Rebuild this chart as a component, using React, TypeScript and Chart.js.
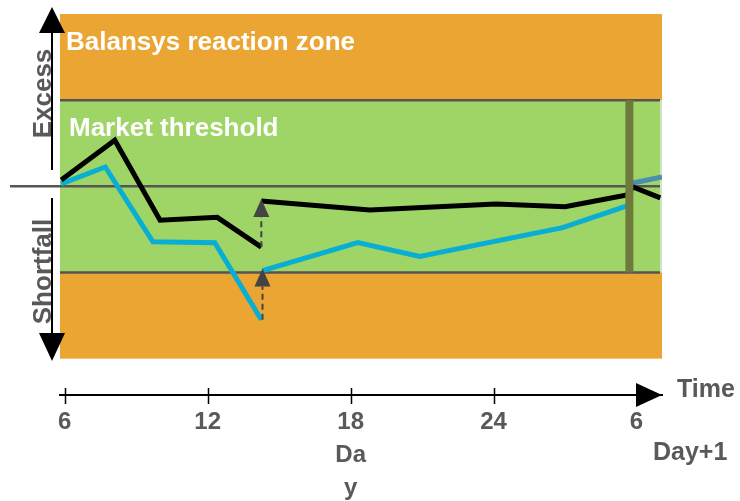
import React, { useEffect, useRef } from "react";
import { Chart, registerables } from "chart.js";

Chart.register(...registerables);

// ---- data ----
const tickHours = [6, 12, 18, 24, 30];
const tickLabels: (string | string[])[] = ["6", "12", ["18", "Da", "y"], "24", "6"];

const blackHoursA = [5.85, 8.1, 10.0, 12.4, 14.25];
const blackLevelA = [0.37, 2.67, -1.97, -1.8, -3.53];
const blackHoursB = [14.25, 18.8, 24.1, 27.0, 29.6, 29.85, 31.0];
const blackLevelB = [-0.85, -1.37, -1.02, -1.19, -0.5, -0.04, -0.67];

const blueHoursA = [5.85, 7.7, 9.7, 12.3, 14.25];
const blueLevelA = [0.14, 1.12, -3.22, -3.27, -7.74];
const blueHoursB = [14.3, 18.3, 20.9, 26.9, 29.6];
const blueLevelB = [-4.89, -3.27, -4.07, -2.4, -1.13];

const nextHours = [29.85, 31.07];
const nextLevel = [0.19, 0.54];

const reactionZone = [-10, 10];
const marketThreshold = [-5, 5];
const balanceLevel = 0;
const dayBoundaryHour = 29.7;

const correctionHour = [14.25, 14.3];
const correctionFrom = [-3.53, -7.74];
const correctionTo = [-0.85, -4.89];

const zoneTitles = ["Balansys reaction zone", "Market threshold"];
const sideTitles = ["Excess", "Shortfall"];
const axisTitle = "Time";
const nextDayLabel = "Day+1";

// ---- styles ----
const ORANGE = "#eba532";
const GREEN = "#9fd466";
const GREY = "#555555";
const TEXT_GREY = "#595959";
const FONT = '"Liberation Sans", Arial, Helvetica, sans-serif';

const toPoints = (xs: number[], ys: number[]) => xs.map((x, i) => ({ x, y: ys[i] }));

const diagramPlugin = {
  id: "diagram",
  beforeDatasetsDraw(chart: any) {
    const { ctx, chartArea: a, scales } = chart;
    const y = scales.y;
    ctx.save();
    const oTop = y.getPixelForValue(reactionZone[1]);
    const oBot = y.getPixelForValue(reactionZone[0]);
    ctx.fillStyle = ORANGE;
    ctx.fillRect(a.left, oTop, a.right - a.left, oBot - oTop);
    const gTop = y.getPixelForValue(marketThreshold[1]);
    const gBot = y.getPixelForValue(marketThreshold[0]);
    ctx.fillStyle = GREEN;
    ctx.fillRect(a.left, gTop, a.right - a.left - 2, gBot - gTop);
    ctx.fillStyle = "#cfe6c6";
    ctx.fillRect(a.right - 2, gTop, 2, gBot - gTop);

    ctx.strokeStyle = GREY;
    ctx.lineWidth = 2.5;
    const hl = (x1: number, x2: number, yy: number) => {
      ctx.beginPath();
      ctx.moveTo(x1, yy);
      ctx.lineTo(x2, yy);
      ctx.stroke();
    };
    hl(a.left, a.right - 2, gTop);
    hl(a.left, a.right - 2, gBot);
    hl(10, a.right - 2, y.getPixelForValue(balanceLevel));

    ctx.fillStyle = "#ffffff";
    ctx.font = `bold 26px ${FONT}`;
    ctx.textAlign = "left";
    ctx.textBaseline = "alphabetic";
    ctx.fillText(zoneTitles[0], a.left + 6, oTop + 36);
    ctx.fillText(zoneTitles[1], a.left + 9, gTop + 35.5);
    ctx.restore();
  },
  afterDatasetsDraw(chart: any) {
    const { ctx, scales } = chart;
    const x = scales.x;
    const y = scales.y;
    ctx.save();
    const gTop = y.getPixelForValue(marketThreshold[1]);
    const gBot = y.getPixelForValue(marketThreshold[0]);
    ctx.fillStyle = "#6e7a3c";
    const bx = x.getPixelForValue(dayBoundaryHour);
    ctx.fillRect(bx - 4, gTop, 8, gBot - gTop);

    correctionHour.forEach((h, i) => {
      const px = x.getPixelForValue(h);
      const p0 = y.getPixelForValue(correctionFrom[i]);
      const tip = y.getPixelForValue(correctionTo[i]) - 2;
      const base = tip + 18;
      ctx.strokeStyle = "#444444";
      ctx.lineWidth = 2;
      ctx.setLineDash([6, 4]);
      ctx.beginPath();
      ctx.moveTo(px, p0);
      ctx.lineTo(px, base);
      ctx.stroke();
      ctx.setLineDash([]);
      ctx.fillStyle = "#444444";
      ctx.beginPath();
      ctx.moveTo(px, tip);
      ctx.lineTo(px - 8, base);
      ctx.lineTo(px + 8, base);
      ctx.closePath();
      ctx.fill();
    });
    ctx.restore();
  },
  afterDraw(chart: any) {
    const { ctx, chartArea: a, scales } = chart;
    const x = scales.x;
    ctx.save();
    const ay = a.bottom;
    ctx.strokeStyle = "#000";
    ctx.lineWidth = 1.5;
    tickHours.forEach((h) => {
      const px = Math.round(x.getPixelForValue(h)) + 0.5;
      ctx.beginPath();
      ctx.moveTo(px, ay - 7);
      ctx.lineTo(px, ay + 9);
      ctx.stroke();
    });
    ctx.fillStyle = "#000";
    ctx.beginPath();
    ctx.moveTo(a.right - 26, ay - 12);
    ctx.lineTo(a.right, ay);
    ctx.lineTo(a.right - 26, ay + 12);
    ctx.closePath();
    ctx.fill();

    ctx.fillStyle = TEXT_GREY;
    ctx.font = `bold 25px ${FONT}`;
    ctx.textAlign = "left";
    ctx.textBaseline = "alphabetic";
    ctx.fillText(axisTitle, a.right + 15, ay + 2);
    ctx.fillText(nextDayLabel, a.right - 9, ay + 65);

    // vertical double arrow
    const vx = a.left - 8;
    ctx.strokeStyle = "#000";
    ctx.fillStyle = "#000";
    ctx.lineWidth = 2;
    ctx.beginPath();
    ctx.moveTo(vx, 33);
    ctx.lineTo(vx, 170);
    ctx.moveTo(vx, 198);
    ctx.lineTo(vx, 333);
    ctx.stroke();
    ctx.beginPath();
    ctx.moveTo(vx, 7);
    ctx.lineTo(vx - 13, 33);
    ctx.lineTo(vx + 13, 33);
    ctx.closePath();
    ctx.fill();
    ctx.beginPath();
    ctx.moveTo(vx, 361);
    ctx.lineTo(vx - 13, 333);
    ctx.lineTo(vx + 13, 333);
    ctx.closePath();
    ctx.fill();

    ctx.fillStyle = TEXT_GREY;
    ctx.font = `bold 26px ${FONT}`;
    ctx.textAlign = "center";
    [
      [sideTitles[0], 93.5],
      [sideTitles[1], 271.5],
    ].forEach(([t, cy]) => {
      ctx.save();
      ctx.translate(vx - 1, cy as number);
      ctx.rotate(-Math.PI / 2);
      ctx.fillText(t as string, 0, 0);
      ctx.restore();
    });
    ctx.restore();
  },
};

export default function App() {
  const ref = useRef<HTMLCanvasElement | null>(null);
  useEffect(() => {
    if (!ref.current) return;
    const lineStyle = (color: string) => ({
      borderColor: color,
      backgroundColor: color,
      borderWidth: 5,
      pointRadius: 0,
      tension: 0,
      fill: false,
    });
    const chart = new Chart(ref.current, {
      type: "line",
      data: {
        datasets: [
          { label: "Actual A", data: toPoints(blackHoursA, blackLevelA), ...lineStyle("#000000") },
          { label: "Actual B", data: toPoints(blackHoursB, blackLevelB), ...lineStyle("#000000") },
          { label: "Forecast A", data: toPoints(blueHoursA, blueLevelA), ...lineStyle("#08aed3") },
          { label: "Forecast B", data: toPoints(blueHoursB, blueLevelB), ...lineStyle("#08aed3") },
          { label: "Next day", data: toPoints(nextHours, nextLevel), ...lineStyle("#4a8fb0") },
        ],
      },
      options: {
        animation: false,
        responsive: false,
        devicePixelRatio: 1,
        layout: { padding: { left: 60, right: 78, top: 14, bottom: 0 } },
        plugins: { legend: { display: false }, tooltip: { enabled: false } },
        scales: {
          x: {
            type: "linear",
            min: 5.8,
            max: 31.07,
            afterBuildTicks: (scale: any) => {
              scale.ticks = tickHours.map((v) => ({ value: v }));
            },
            afterFit: (scale: any) => {
              scale.height = 106;
            },
            ticks: {
              autoSkip: false,
              maxRotation: 0,
              padding: 11,
              color: TEXT_GREY,
              font: { family: FONT, size: 24, weight: "bold", lineHeight: 1.375 },
              callback: (value: any) => {
                const i = tickHours.indexOf(Number(value));
                return i >= 0 ? tickLabels[i] : "";
              },
            },
            grid: { display: false, drawTicks: false },
            border: { display: true, color: "#000000", width: 2 },
          },
          y: { display: false, min: -12.11, max: 10 },
        },
      },
      plugins: [diagramPlugin],
    } as any);
    return () => chart.destroy();
  }, []);
  return (
    <div style={{ position: "absolute", left: 0, top: 0, width: 740, height: 501, background: "#fff" }}>
      <canvas ref={ref} width={740} height={501} />
    </div>
  );
}
